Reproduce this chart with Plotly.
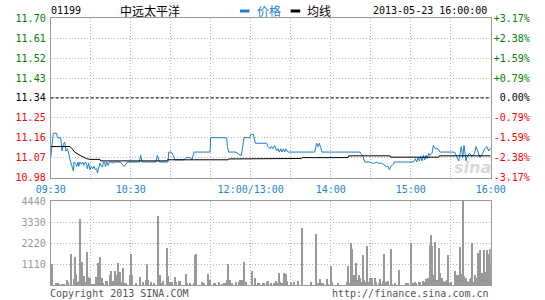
import plotly.graph_objects as go

# ---------------- data ----------------
PREV_CLOSE = 11.34
stock_code = "01199"
stock_name = "中远太平洋"
stamp = "2013-05-23 16:00:00"

# minutes since 09:30 (lunch break removed, 330 trading minutes)
price_time = [
    0, 2, 4.5, 5, 7.5, 8.5, 9.5, 10.5, 11.5, 12.5,
    13.5, 14.5, 17, 17.5, 19, 19.5, 20.5, 21, 22, 23,
    24, 25, 26, 27, 27.5, 28.5, 29.5, 30.5, 31.5, 32.5,
    33.5, 34.5, 35, 36, 37, 38, 39, 39.5, 40.5, 41,
    42, 43, 44, 46, 46.5, 48, 52, 53.5, 55, 56.5,
    57.5, 66.5, 67.5, 68.5, 79, 80, 81.5, 88, 88.5, 90.5,
    92, 93, 100, 101.5, 105, 106, 107.5, 119.5, 120, 132,
    132.5, 133.5, 139, 141, 143, 144, 145, 149.5, 150, 152,
    152.5, 153.5, 162, 163, 164.5, 165.5, 166.5, 168, 169.5, 170.5,
    171.5, 172.5, 173.5, 174.5, 175.5, 176.5, 178, 198, 199.5, 200.5,
    201.5, 202.5, 203.5, 232, 232.5, 234, 235.5, 239.5, 241, 243,
    244, 245.5, 248, 249.5, 251.5, 253, 254, 255, 257, 257.5,
    272, 273.5, 274.5, 275.5, 276.5, 277.5, 278.5, 279.5, 280.5, 281.5,
    282.5, 283.5, 284.5, 286, 287, 288.5, 290.5, 292, 303, 304.5,
    306, 308, 309, 310, 311, 311.5, 312, 314, 316, 318,
    319, 322, 324, 325.5, 327, 328.5, 330]
price_value = [
    11.07, 11.18, 11.18, 11.16, 11.16, 11.10, 11.13, 11.14, 11.10, 11.11,
    11.09, 11.06, 11.01, 11.05, 11.04, 11.03, 11.05, 11.03, 11.05, 11.04,
    11.05, 11.035, 11.05, 11.04, 11.02, 11.045, 11.015, 11.03, 11.02, 11.03,
    11.015, 11.02, 11.00, 11.02, 11.045, 11.03, 11.03, 11.05, 11.05, 11.03,
    11.05, 11.035, 11.05, 11.05, 11.045, 11.05, 11.05, 11.04, 11.03, 11.04,
    11.05, 11.05, 11.08, 11.05, 11.05, 11.08, 11.05, 11.05, 11.095, 11.095,
    11.08, 11.06, 11.06, 11.07, 11.07, 11.06, 11.095, 11.095, 11.16, 11.16,
    11.12, 11.095, 11.095, 11.085, 11.08, 11.12, 11.16, 11.16, 11.175, 11.175,
    11.16, 11.135, 11.135, 11.12, 11.11, 11.12, 11.11, 11.125, 11.10, 11.11,
    11.095, 11.11, 11.095, 11.11, 11.095, 11.11, 11.095, 11.095, 11.135, 11.12,
    11.135, 11.11, 11.095, 11.095, 11.088, 11.08, 11.05, 11.05, 11.045, 11.045,
    11.05, 11.045, 11.045, 11.04, 11.03, 11.03, 11.015, 11.03, 11.04, 11.05,
    11.05, 11.065, 11.05, 11.07, 11.055, 11.075, 11.055, 11.08, 11.06, 11.08,
    11.065, 11.09, 11.08, 11.09, 11.125, 11.11, 11.11, 11.095, 11.095, 11.075,
    11.055, 11.12, 11.07, 11.125, 11.08, 11.055, 11.07, 11.09, 11.075, 11.09,
    11.12, 11.07, 11.09, 11.11, 11.12, 11.10, 11.115]

avg_time = [0, 14.5, 16, 18, 22, 27, 29.5, 37, 37.5, 87, 87.5,
            133, 133.5, 188, 188.5, 223, 223.5, 254.5, 255, 291, 291.5, 330]
avg_value = [11.12, 11.12, 11.11, 11.095, 11.08, 11.065, 11.062, 11.062, 11.055, 11.055, 11.06,
             11.06, 11.064, 11.066, 11.07, 11.07, 11.078, 11.078, 11.072, 11.072, 11.078, 11.078]

vol_time = [
    1, 4, 5, 6, 8, 10, 12, 13, 15, 17,
    18, 19, 20, 21, 22, 23, 24, 25, 26, 27,
    28, 29, 31, 32, 34, 35, 36, 37, 38, 39,
    41, 42, 44, 45, 46, 47, 48, 49, 50, 51,
    52, 53, 54, 55, 56, 59, 60, 61, 64, 67,
    69, 71, 72, 73, 75, 77, 80, 82, 83, 84,
    87, 88, 89, 90, 91, 93, 94, 96, 97, 101,
    102, 104, 107, 108, 109, 113, 114, 115, 118, 119,
    122, 123, 126, 128, 130, 131, 132, 133, 134, 136,
    139, 141, 142, 143, 145, 146, 151, 153, 155, 156,
    159, 160, 162, 163, 165, 167, 169, 170, 171, 172,
    173, 174, 175, 176, 177, 180, 182, 185, 188, 195,
    199, 200, 202, 203, 204, 207, 208, 210, 211, 215,
    222, 223, 224, 225, 226, 227, 229, 230, 231, 232,
    233, 234, 235, 236, 237, 238, 239, 240, 241, 243,
    244, 246, 247, 248, 249, 250, 251, 252, 253, 255,
    256, 258, 261, 266, 268, 270, 271, 272, 273, 274,
    276, 277, 279, 280, 281, 282, 283, 284, 285, 286,
    287, 288, 289, 290, 291, 292, 293, 294, 295, 296,
    297, 298, 299, 300, 303, 304, 305, 307, 308, 309,
    310, 311, 312, 313, 314, 315, 316, 317, 318, 319,
    320, 321, 322, 323, 324, 325, 326, 327, 328, 329,
    330]
vol_value = [
    1110, 106, 106, 53, 53, 53, 264, 141, 1640, 317,
    1500, 580, 176, 211, 3490, 1230, 176, 490, 176, 1745,
    440, 350, 35, 35, 440, 1145, 530, 1500, 350, 88,
    211, 211, 530, 740, 230, 230, 740, 530, 1145, 530,
    705, 141, 916, 88, 70, 530, 1640, 530, 106, 440,
    141, 264, 1110, 264, 141, 88, 3665, 530, 88, 211,
    1973, 490, 141, 106, 176, 440, 141, 230, 230, 580,
    70, 106, 106, 1585, 1640, 141, 106, 106, 580, 264,
    106, 70, 141, 53, 70, 106, 264, 1090, 264, 88,
    141, 141, 264, 264, 1215, 141, 740, 350, 70, 70,
    106, 70, 141, 211, 106, 106, 211, 70, 650, 141,
    106, 70, 650, 580, 211, 141, 141, 211, 3030, 141,
    2696, 70, 317, 70, 70, 317, 53, 1020, 141, 106,
    141, 1020, 106, 2200, 1900, 530, 1145, 264, 530, 350,
    141, 1585, 264, 141, 2060, 141, 388, 264, 350, 388,
    141, 88, 317, 35, 230, 1640, 141, 141, 211, 1900,
    35, 70, 790, 70, 106, 2200, 106, 106, 141, 106,
    141, 176, 211, 141, 317, 141, 350, 2115, 2643, 2060,
    530, 2290, 264, 264, 1940, 617, 388, 211, 141, 211,
    264, 1585, 88, 141, 740, 530, 530, 2026, 564, 4440,
    490, 388, 211, 141, 317, 388, 2200, 176, 530, 350,
    1675, 440, 1850, 650, 617, 1850, 705, 1850, 1620, 1900,
    1090]

price_ticks = [10.98, 11.07, 11.16, 11.25, 11.34, 11.43, 11.52, 11.61, 11.70]
vol_ticks = [1110, 2220, 3330, 4440]
time_ticks = [0, 60, 150, 210, 270, 330]
time_labels = ["09:30", "10:30", "12:00/13:00", "14:00", "15:00", "16:00"]
grid_minutes = list(range(0, 331, 30))

assert len(price_time) == len(price_value)
assert len(avg_time) == len(avg_value)
assert len(vol_time) == len(vol_value)

# ---------------- styling ----------------
W, H = 545, 300
BLUE = "#1a7fcf"
TIME_BLUE = "#1a86d6"
GREEN = "#008000"
RED = "#ff0000"
FRAME = "#999999"
GRID = "#b4b4b4"
MONO = "DejaVu Sans Mono"
CJK = "Noto Sans CJK SC"

def px_x(x):
    return x / W

def px_y(y):
    return 1 - y / H

X_DOM = [px_x(50.7), px_x(490.7)]
P_DOM = [px_y(177.5), px_y(18.3)]
V_DOM = [px_y(285), px_y(201)]
P_RANGE = [price_ticks[0], price_ticks[-1]]

def color_for(v):
    if abs(v - PREV_CLOSE) < 1e-9:
        return "#000000"
    return GREEN if v > PREV_CLOSE else RED

left_text = ['<span style="color:%s">%.2f</span>' % (color_for(t), t) for t in price_ticks]
right_text = []
for t in price_ticks:
    pct = (t - PREV_CLOSE) / PREV_CLOSE * 100
    s = "0.00%" if abs(pct) < 1e-9 else "%+.2f%%" % pct
    s = s.rjust(6, "\u00a0")  # right-align in the monospace column
    right_text.append('<span style="color:%s">%s</span>' % (color_for(t), s))

fig = go.Figure()
# average line drawn on the right (percent) axis, which shares the price range
fig.add_trace(go.Scatter(x=avg_time, y=avg_value, mode="lines",
                         line=dict(color="#000000", width=1),
                         xaxis="x", yaxis="y3", hoverinfo="skip"))
fig.add_trace(go.Scatter(x=price_time, y=price_value, mode="lines",
                         line=dict(color=BLUE, width=1),
                         xaxis="x", yaxis="y", hoverinfo="skip"))
fig.add_trace(go.Bar(x=vol_time, y=vol_value, width=0.75,
                     marker=dict(color="#999999", line=dict(width=0)),
                     xaxis="x2", yaxis="y2", hoverinfo="skip"))

grid_common = dict(showgrid=True, gridcolor=GRID, griddash="1px,2px", gridwidth=1,
                   zeroline=False, showline=True, mirror=True, linecolor=FRAME,
                   linewidth=1, ticks="", automargin=False)

fig.update_layout(
    width=W, height=H,
    margin=dict(l=0, r=0, t=0, b=0, pad=0),
    paper_bgcolor="white", plot_bgcolor="white",
    showlegend=False, bargap=0,
    font=dict(family=MONO, size=10, color="#000"),
    xaxis=dict(domain=X_DOM, range=[0, 330], anchor="y",
               tickmode="array", tickvals=time_ticks, ticktext=time_labels,
               tickfont=dict(family=MONO, size=10, color=TIME_BLUE),
               minor=dict(tickvals=grid_minutes, showgrid=True, gridcolor=GRID,
                          griddash="1px,2px", ticks=""),
               ticklabelstandoff=2,
               **grid_common),
    yaxis=dict(domain=P_DOM, range=P_RANGE, anchor="x",
               tickmode="array", tickvals=price_ticks, ticktext=left_text,
               tickfont=dict(family=MONO, size=10),
               ticklabelstandoff=2,
               **grid_common),
    yaxis3=dict(overlaying="y", side="right", anchor="x", range=P_RANGE,
                tickmode="array", tickvals=price_ticks, ticktext=right_text,
                tickfont=dict(family=MONO, size=10),
                showgrid=False, zeroline=False, showline=False, ticks="",
                ticklabelstandoff=2, automargin=False),
    xaxis2=dict(domain=X_DOM, range=[0, 330], anchor="y2",
                tickmode="array", tickvals=grid_minutes, showticklabels=False,
                **grid_common),
    yaxis2=dict(domain=V_DOM, range=[0, 4440], anchor="x2",
                tickmode="array", tickvals=vol_ticks,
                ticktext=[str(v) for v in vol_ticks],
                tickfont=dict(family=MONO, size=10, color="#999999"),
                ticklabelstandoff=2,
                **grid_common),
)

# dashed previous-close line
fig.add_shape(type="line", xref="x", yref="y", x0=0, x1=330,
              y0=PREV_CLOSE, y1=PREV_CLOSE,
              line=dict(color="#000000", width=1, dash="3px,2px"))

# legend swatches
fig.add_shape(type="line", xref="paper", yref="paper",
              x0=px_x(240), x1=px_x(249.5), y0=px_y(11), y1=px_y(11),
              line=dict(color=BLUE, width=3))
fig.add_shape(type="line", xref="paper", yref="paper",
              x0=px_x(290.7), x1=px_x(300.2), y0=px_y(11), y1=px_y(11),
              line=dict(color="#000000", width=3))

ann = []
def add_text(text, x, y, anchor="left", size=10, color="#000", family=MONO, **kw):
    ann.append(dict(text=text, x=px_x(x), y=px_y(y), xref="paper", yref="paper",
                    xanchor=anchor, yanchor="middle", showarrow=False,
                    font=dict(family=family, size=size, color=color), **kw))

add_text(stock_code, 49, 11)
add_text(stock_name, 149.5, 11, anchor="center", size=12, family=CJK)
add_text("价格", 255, 11, size=12, color=BLUE, family=CJK)
add_text("均线", 305, 11, size=12, family=CJK)
add_text(stamp, 489, 11, anchor="right")
add_text("Copyright 2013 SINA.COM", 48, 293, color="#555555")
add_text("http://finance.sina.com.cn", 491, 293, anchor="right", color="#555555")
ann.append(dict(text="<b><i>sina</i></b>", x=px_x(472), y=px_y(167), xref="paper", yref="paper",
                xanchor="center", yanchor="middle", showarrow=False,
                font=dict(family="DejaVu Sans", size=16, color="#d9d9d9")))
fig.update_layout(annotations=ann)

fig.write_html("out.html")
